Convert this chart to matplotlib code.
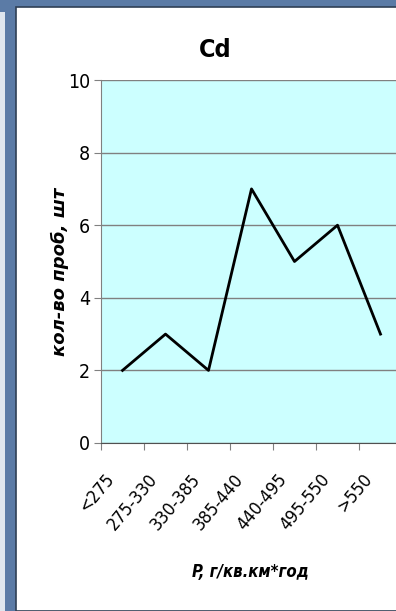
import numpy as np
import matplotlib
matplotlib.use("Agg")
import matplotlib.pyplot as plt
from matplotlib import font_manager
from matplotlib.patches import Rectangle
from matplotlib.transforms import ScaledTranslation

# classes of P load and number of samples for Cd
categories = ["<275", "275-330", "330-385", "385-440", "440-495", "495-550", ">550"]
counts = [2, 3, 2, 7, 5, 6, 3]
yticks = [0, 2, 4, 6, 8, 10]

names = {f.name for f in font_manager.fontManager.ttflist}
if "Liberation Sans Narrow" in names:
    narrow = dict(fontfamily="Liberation Sans Narrow")
else:
    narrow = dict(fontfamily="DejaVu Sans", fontstretch="condensed")

fig = plt.figure(figsize=(3.96, 6.11), dpi=100)
fig.patch.set_facecolor("#5b7ba6")

# white slide panel behind the chart
fig.patches.append(Rectangle((16 / 396, 0), 1, 1 - 7 / 611, transform=fig.transFigure,
                             facecolor="white", edgecolor="#2f3f55", linewidth=1.2, zorder=-2))
fig.patches.append(Rectangle((0, 0), 5 / 396, 1 - 12 / 611, transform=fig.transFigure,
                             facecolor="#dfe6ee", edgecolor="none", zorder=-2))

ax = fig.add_axes([101 / 396, 168 / 611, 301 / 396, 363 / 611])
ax.set_facecolor("#ccffff")

x = np.arange(len(categories))
ax.plot(x, counts, color="black", linewidth=2.0)

ax.set_xlim(-0.5, len(categories) - 0.5)
ax.set_ylim(0, 10)
ax.set_yticks(yticks)
ax.set_yticklabels([str(v) for v in yticks], fontsize=14, **narrow)
ax.grid(axis="y", color="#808080", linewidth=1.0)
ax.set_axisbelow(True)

# ticks sit on the category boundaries
ax.set_xticks(np.arange(len(categories) + 1) - 0.5)
ax.set_xticklabels([])
ax.tick_params(axis="x", length=5, color="#808080")
ax.tick_params(axis="y", length=5, color="#808080", pad=3)

# slanted category names, ending just left of the category centre
shift = ScaledTranslation(-18 / 100, -27 / 100, fig.dpi_scale_trans)
for xi, name in zip(x, categories):
    ax.text(xi, 0, name, transform=ax.get_xaxis_transform() + shift,
            rotation=50, rotation_mode="anchor", ha="right", va="top",
            fontsize=13, **narrow)

for side in ["top", "right"]:
    ax.spines[side].set_visible(False)
ax.spines["left"].set_color("#808080")
ax.spines["bottom"].set_color("#505050")

fig.text(215 / 396, 1 - 50 / 611, "Cd", ha="center", va="center",
         fontsize=18, fontweight="bold", **narrow)
fig.text(60 / 396, 1 - 272 / 611, "кол-во проб, шт", ha="center", va="center",
         rotation=90, fontsize=13, fontweight="bold", fontstyle="italic")
fig.text(250 / 396, 1 - 572 / 611, "P, г/кв.км*год", ha="center", va="center",
         fontsize=12, fontweight="bold", fontstyle="italic", **narrow)

fig.savefig("out.png", dpi=100)
